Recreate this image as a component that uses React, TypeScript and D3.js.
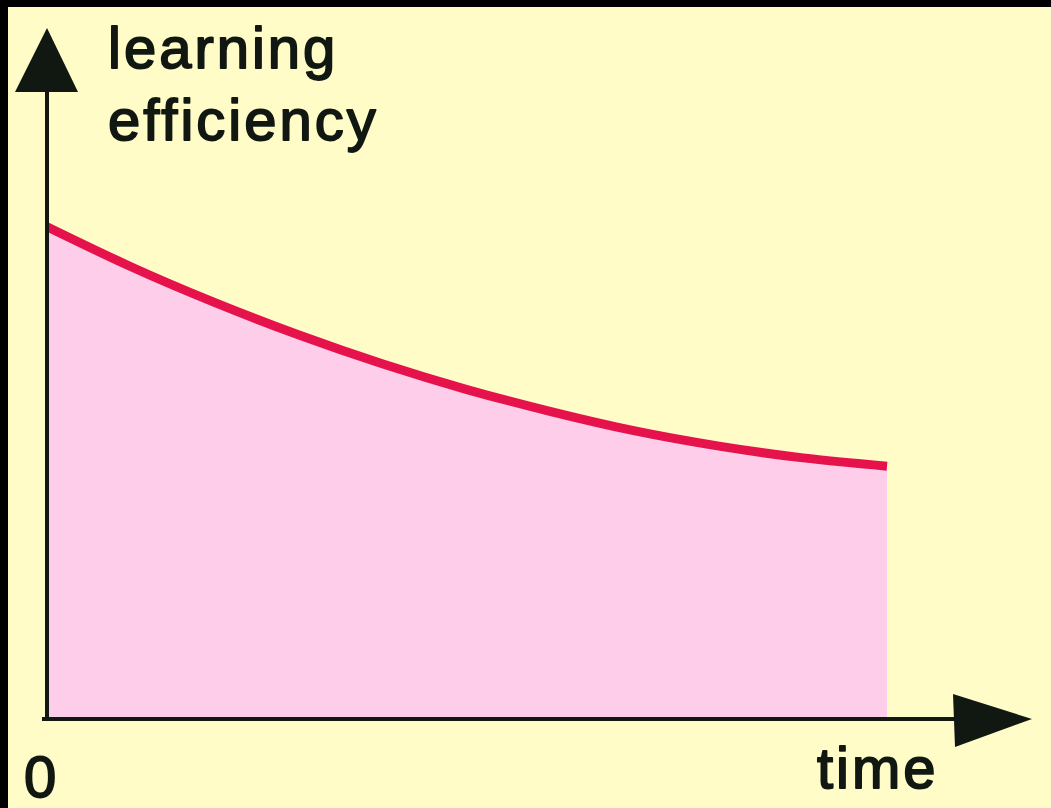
import React from "react";
import * as d3 from "d3";

// Data (arbitrary units)
const timeSteps = [0, 1, 2, 3, 4, 5, 6, 7, 8, 9, 10];
const efficiency = [71.2, 65.4, 60.2, 55.5, 51.3, 47.6, 44.4, 41.6, 39.4, 37.7, 36.5];
const yAxisLabel = ["learning", "efficiency"];
const xAxisLabel = "time";
const originLabel = "0";

const W = 1051;
const H = 808;

export default function App() {
  const x = d3.scaleLinear().domain([0, 10]).range([47, 887]);
  const y = d3.scaleLinear().domain([0, 100]).range([718, 28]);
  const pts = timeSteps.map((t, i) => ({ t, v: efficiency[i] }));

  const area = d3
    .area<{ t: number; v: number }>()
    .x((d) => x(d.t))
    .y0(y(0))
    .y1((d) => y(d.v))
    .curve(d3.curveNatural);
  const line = d3
    .line<{ t: number; v: number }>()
    .x((d) => x(d.t))
    .y((d) => y(d.v))
    .curve(d3.curveNatural);

  const ink = "#111812";
  const font = "'Liberation Sans', Arial, Helvetica, sans-serif";
  const textStyle: React.CSSProperties = {
    fontFamily: font,
    fontSize: 58,
    letterSpacing: 3,
  };

  const x0 = x(0);
  const yBase = y(0);

  return (
    <svg
      width={W}
      height={H}
      style={{ position: "fixed", left: 0, top: 0, display: "block" }}
    >
      <rect x={0} y={0} width={W} height={H} fill="#000" />
      <rect x={8} y={7} width={W - 8} height={H - 7} fill="#FFFCC8" />
      <path d={area(pts) || ""} fill="#FDCDEA" />
      <path
        d={line(pts) || ""}
        fill="none"
        stroke="#E5124C"
        strokeWidth={9}
        strokeLinecap="butt"
      />
      {/* y axis */}
      <line x1={x0} y1={yBase + 2} x2={x0} y2={85} stroke={ink} strokeWidth={4} />
      <path d={`M${x0},28 L${x0 - 32},92 L${x0 + 31},92 Z`} fill={ink} />
      {/* x axis */}
      <line x1={42} y1={yBase + 1} x2={960} y2={yBase + 1} stroke={ink} strokeWidth={4} />
      <path d={`M1032,${yBase + 1} L953,${yBase - 24} L955,${yBase + 29} Z`} fill={ink} />
      {/* labels */}
      <g fill={ink} stroke={ink} strokeWidth={1.8} strokeLinejoin="round" style={textStyle}>
        <text x={108} y={68}>{yAxisLabel[0]}</text>
        <text x={108} y={140}>{yAxisLabel[1]}</text>
        <text x={24} y={797}>{originLabel}</text>
        <text x={817} y={788}>{xAxisLabel}</text>
      </g>
    </svg>
  );
}
